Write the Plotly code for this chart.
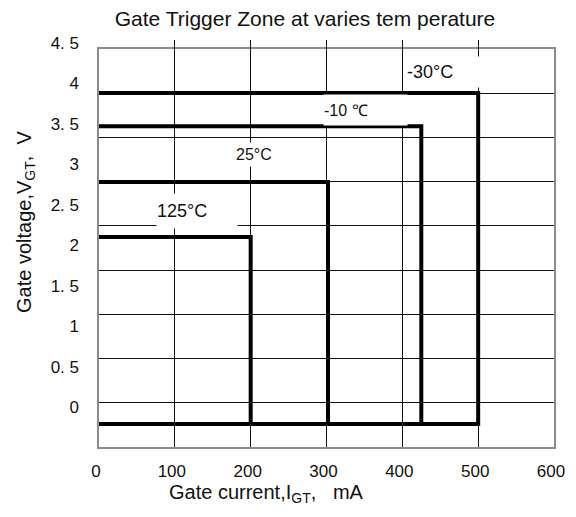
import plotly.graph_objects as go

# ---- data ----
temperatures = ["-30°C", "-10 ℃", "25°C", "125°C"]
igt_max_ma = [500, 425, 302, 200]        # gate trigger current (mA)
vgt_max_v = [3.88, 3.47, 2.78, 2.10]     # gate trigger voltage (V)
vgt_floor_v = -0.21                      # lower boundary of the zone

x_ticks = [0, 100, 200, 300, 400, 500, 600]
y_tickvals = [0, 0.5, 1, 1.5, 2, 2.5, 3, 3.5, 4, 4.5]
y_ticktext = ["0", "0. 5", "1", "1. 5", "2", "2. 5", "3", "3. 5", "4", "4. 5"]

# ---- label layout (pixel boxes: centre x, centre y, width, height, font size) ----
label_boxes = [
    dict(cx=447, cy=72, w=80, h=30, size=18),
    dict(cx=365, cy=110, w=83, h=30, size=16),
    dict(cx=256, cy=154, w=40, h=23, size=16),
    dict(cx=197, cy=211, w=80, h=34, size=18),
]

W, H = 576, 517
L, R, T, B = 99, 554, 40, 447   # plotting region in pixels
FRAME_TOP = 49
FONT = "Liberation Sans"
INK = "#111"

fig = go.Figure()
for t, i, v in zip(temperatures, igt_max_ma, vgt_max_v):
    fig.add_trace(go.Scatter(
        x=[0, i, i, 0], y=[v, v, vgt_floor_v, vgt_floor_v],
        mode="lines", line=dict(color="black", width=4),
        xaxis="x", yaxis="y2", name=t, showlegend=False, hoverinfo="skip",
    ))
# invisible trace to create the grid subplot
fig.add_trace(go.Scatter(x=[0], y=[0], xaxis="x", yaxis="y", mode="markers",
                         marker=dict(opacity=0), showlegend=False, hoverinfo="skip"))


def px(xp):
    return (xp - L) / (R - L)


def py(yp):
    return (B - yp) / (B - T)


for t, b in zip(temperatures, label_boxes):
    fig.add_annotation(x=px(b["cx"]), y=py(b["cy"]), xref="paper", yref="paper",
                       xanchor="center", yanchor="middle",
                       text=t, showarrow=False,
                       bgcolor="white", width=b["w"], height=b["h"], borderpad=0,
                       align="left", valign="middle",
                       font=dict(family=FONT, size=b["size"], color=INK))

fig.add_annotation(x=px(266), y=py(493), xref="paper", yref="paper",
                   xanchor="center", yanchor="middle",
                   text="Gate current,I<sub>GT</sub>,   mA", showarrow=False,
                   font=dict(family=FONT, size=20, color=INK))
fig.add_annotation(x=px(25), y=py(222), xref="paper", yref="paper",
                   xanchor="center", yanchor="middle",
                   text="Gate voltage,V<sub>GT</sub>,  V", showarrow=False, textangle=-90,
                   font=dict(family=FONT, size=20, color=INK))

fig.update_layout(
    width=W, height=H,
    margin=dict(l=L, r=W - R, t=T, b=H - B),
    paper_bgcolor="white", plot_bgcolor="rgba(0,0,0,0)",
    title=dict(text="Gate Trigger Zone at varies tem perature",
               x=305 / W, xref="container", xanchor="center",
               y=1 - 19 / H, yref="container", yanchor="middle",
               font=dict(family=FONT, size=21, color=INK)),
    xaxis=dict(range=[0, 600], tickvals=x_ticks, anchor="y",
               showgrid=True, gridcolor="#111", gridwidth=1, zeroline=False,
               showline=True, mirror=True, linecolor="#8c8c8c", linewidth=2,
               ticks="", ticklabelstandoff=8, ticklabelshift=-3,
               tickfont=dict(family=FONT, size=17, color=INK)),
    yaxis=dict(domain=[0, (B - FRAME_TOP) / (B - T)], range=[0, 9], dtick=1,
               showticklabels=False, showgrid=True, gridcolor="#111", gridwidth=1,
               zeroline=False, showline=True, mirror=True,
               linecolor="#8c8c8c", linewidth=2, anchor="x"),
    yaxis2=dict(domain=[0, 1], range=[-0.494, 4.536], anchor="x", side="left",
                tickvals=y_tickvals, ticktext=y_ticktext,
                showgrid=False, zeroline=False, showline=False, ticks="",
                ticklabelstandoff=19,
                tickfont=dict(family=FONT, size=17, color=INK)),
)

fig.write_html("out.html", config={"displayModeBar": False},
               post_script="document.body.style.margin='0';document.body.style.padding='0';")
